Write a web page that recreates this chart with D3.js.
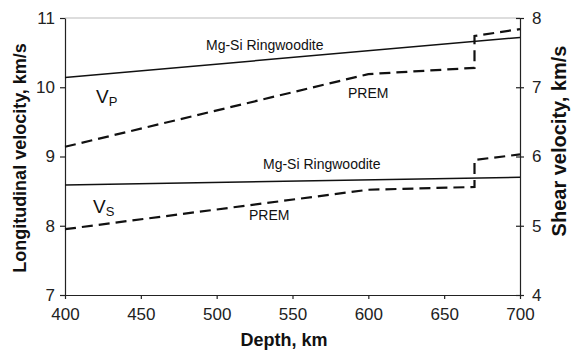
<!DOCTYPE html>
<html lang="en">
<head>
  <meta charset="UTF-8" />
  <title>Velocity vs depth</title>
  <style>
    body { margin: 0; background: #fff; font-family: Arial, "Liberation Sans", sans-serif; }
    svg { display: block; }
    .tick text { font-size: 17px; fill: #222; font-family: Arial, "Liberation Sans", sans-serif; }
    .axis-title { font-size: 18px; font-weight: bold; fill: #111; }
    .note { font-size: 14px; fill: #111; }
  </style>
</head>
<body>
  <svg width="571" height="351"></svg>

  <script src="https://cdnjs.cloudflare.com/ajax/libs/d3/7.8.5/d3.min.js"></script>
  <script>
    // PREM profile (step at 670 km)
    const premDepth = [400, 600, 670, 670, 700];
    const vpPrem = [9.14, 10.19, 10.28, 10.74, 10.84];
    const vsPrem = [4.95, 5.52, 5.56, 5.95, 6.03];

    // Mg-Si ringwoodite
    const ringDepth = [400, 700];
    const vpRing = [10.14, 10.72];
    const vsRing = [5.59, 5.70];

    const xTicks = [400, 450, 500, 550, 600, 650, 700];
    const leftTicks = [7, 8, 9, 10, 11];
    const rightTicks = [4, 5, 6, 7, 8];

    const margin = {top: 18, right: 51, bottom: 56, left: 65};
    const width = 571, height = 351;

    const svg = d3.select("svg");

    const x = d3.scaleLinear().domain([400, 700]).range([margin.left, width - margin.right]);
    const yL = d3.scaleLinear().domain([7, 11]).range([height - margin.bottom, margin.top]);
    const yR = d3.scaleLinear().domain([4, 8]).range([height - margin.bottom, margin.top]);
    const fmt = d3.format("d");

    // top frame line
    svg.append("line")
      .attr("x1", x(400)).attr("x2", x(700))
      .attr("y1", yL(11)).attr("y2", yL(11))
      .attr("stroke", "#bbb").attr("stroke-width", 1);

    const styleAxis = g => {
      g.select(".domain").attr("stroke", "#222").attr("stroke-width", 1.2);
      g.selectAll(".tick line").attr("stroke", "#222").attr("stroke-width", 1.2);
    };

    svg.append("g")
      .attr("transform", `translate(0,${yL(7)})`)
      .call(d3.axisBottom(x).tickValues(xTicks).tickFormat(fmt).tickSize(4).tickSizeOuter(0).tickPadding(9))
      .call(styleAxis);

    svg.append("g")
      .attr("transform", `translate(${x(400)},0)`)
      .call(d3.axisLeft(yL).tickValues(leftTicks).tickFormat(fmt).tickSize(5).tickSizeOuter(0).tickPadding(5))
      .call(styleAxis);

    const right = svg.append("g")
      .attr("transform", `translate(${x(700)},0)`)
      .call(d3.axisRight(yR).tickValues(rightTicks).tickFormat(fmt).tickSize(4).tickSizeOuter(0).tickPadding(8))
      .call(styleAxis);
    right.selectAll(".tick line").attr("x1", -4);

    const lineL = d3.line().x(d => x(d[0])).y(d => yL(d[1]));
    const lineR = d3.line().x(d => x(d[0])).y(d => yR(d[1]));

    const drawLine = (gen, xs, ys, dashed) => {
      svg.append("path")
        .datum(xs.map((d, i) => [d, ys[i]]))
        .attr("fill", "none")
        .attr("stroke", "#111")
        .attr("stroke-width", dashed ? 2.2 : 1.5)
        .attr("stroke-dasharray", dashed ? "11,6" : null)
        .attr("d", gen);
    };

    drawLine(lineL, ringDepth, vpRing, false);
    drawLine(lineL, premDepth, vpPrem, true);
    drawLine(lineR, ringDepth, vsRing, false);
    drawLine(lineR, premDepth, vsPrem, true);

    // curve labels
    const notes = [
      {t: "Mg-Si Ringwoodite", x: 206, y: 50},
      {t: "PREM", x: 348, y: 98},
      {t: "Mg-Si Ringwoodite", x: 263, y: 169},
      {t: "PREM", x: 249, y: 220}
    ];
    svg.selectAll("text.note").data(notes).join("text")
      .attr("class", "note")
      .attr("x", d => d.x).attr("y", d => d.y)
      .text(d => d.t);

    const vLabel = (px, py, sub) => {
      const t = svg.append("text").attr("x", px).attr("y", py)
        .attr("font-size", 19).attr("fill", "#111");
      t.append("tspan").text("V");
      t.append("tspan").attr("font-size", 13).attr("dy", 3).text(sub);
    };
    vLabel(96, 103, "P");
    vLabel(93, 213, "S");

    // axis titles
    svg.append("text").attr("class", "axis-title")
      .attr("text-anchor", "middle")
      .attr("x", 284).attr("y", 346)
      .text("Depth, km");

    svg.append("text").attr("class", "axis-title")
      .attr("text-anchor", "middle")
      .attr("transform", "translate(26,158) rotate(-90)")
      .text("Longitudinal velocity, km/s");

    svg.append("text").attr("class", "axis-title")
      .attr("text-anchor", "middle")
      .style("font-size", "20px")
      .attr("transform", "translate(566,141) rotate(-90)")
      .text("Shear velocity, km/s");
  </script>
</body>
</html>
